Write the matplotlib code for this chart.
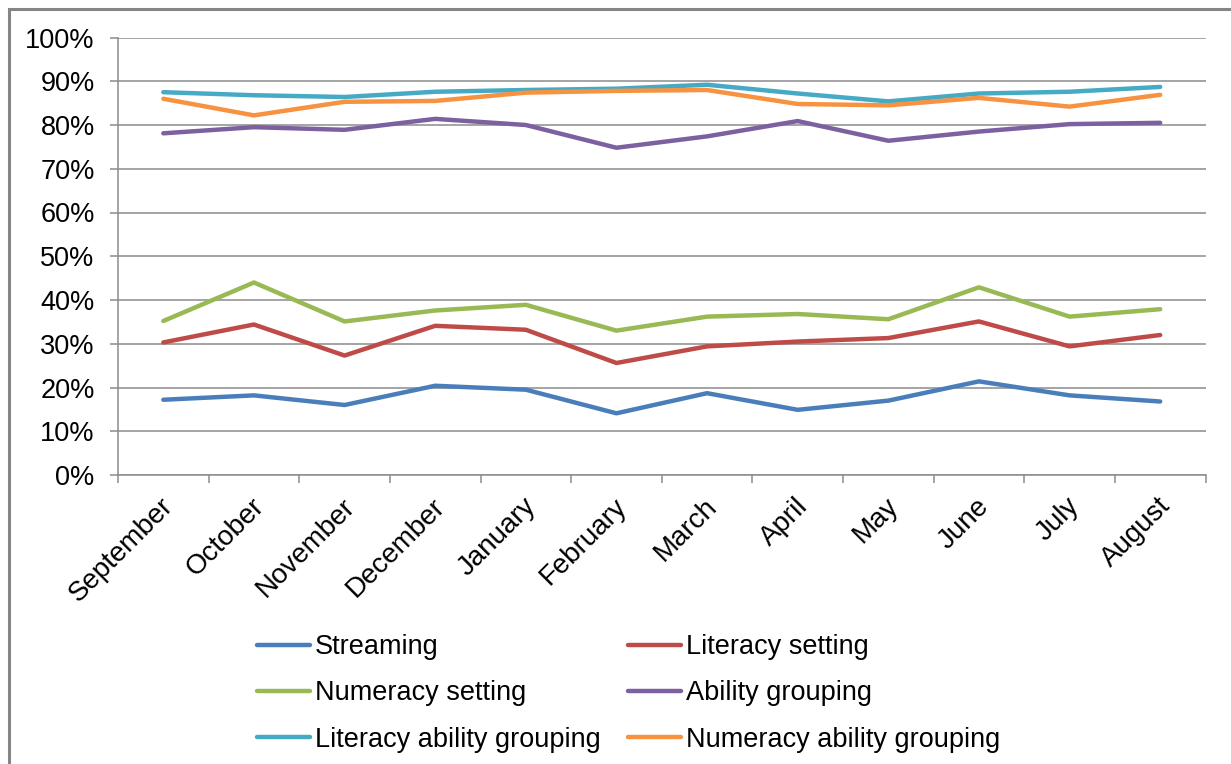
import matplotlib
matplotlib.use("Agg")
import matplotlib.pyplot as plt
import matplotlib.transforms as mtransforms
from matplotlib.patches import Rectangle
from matplotlib.ticker import FixedLocator, PercentFormatter

months = ["September", "October", "November", "December", "January", "February",
          "March", "April", "May", "June", "July", "August"]

streaming = [17.2, 18.2, 16.0, 20.4, 19.5, 14.1, 18.7, 14.9, 17.0, 21.4, 18.2, 16.8]
literacy_setting = [30.3, 34.4, 27.3, 34.1, 33.2, 25.6, 29.4, 30.5, 31.3, 35.1, 29.4, 32.0]
numeracy_setting = [35.2, 44.0, 35.1, 37.6, 38.9, 33.0, 36.2, 36.8, 35.6, 42.9, 36.2, 37.9]
ability_grouping = [78.1, 79.5, 78.9, 81.4, 80.0, 74.8, 77.4, 80.9, 76.4, 78.5, 80.2, 80.5]
literacy_ability_grouping = [87.5, 86.8, 86.4, 87.6, 88.0, 88.3, 89.2, 87.2, 85.4, 87.2, 87.6, 88.7]
numeracy_ability_grouping = [86.0, 82.2, 85.3, 85.5, 87.4, 87.8, 88.0, 84.8, 84.5, 86.2, 84.2, 86.9]

series = [
    ("Streaming", streaming, "#4A7EBB"),
    ("Literacy setting", literacy_setting, "#BE4B48"),
    ("Numeracy setting", numeracy_setting, "#98B954"),
    ("Ability grouping", ability_grouping, "#7D60A0"),
    ("Literacy ability grouping", literacy_ability_grouping, "#46AAC5"),
    ("Numeracy ability grouping", numeracy_ability_grouping, "#F69240"),
]

plt.rcParams["font.family"] = ["Liberation Sans", "DejaVu Sans"]

W, H = 1231, 764
fig = plt.figure(figsize=(W / 100, H / 100), dpi=100)
fig.patch.set_facecolor("white")

# outer chart frame (top and left edges visible)
fig.patches.append(Rectangle((8.5 / W, -0.05), 1.2, 1 - 8.5 / H + 0.05,
                             transform=fig.transFigure, fill=False,
                             edgecolor="#858585", linewidth=2.2, zorder=0))

left, right, top, bottom = 118 / W, 1205.5 / W, 37.5 / H, 475 / H
ax = fig.add_axes([left, 1 - bottom, right - left, bottom - top])

x = list(range(len(months)))
handles = {}
for name, vals, col in series:
    (ln,) = ax.plot(x, vals, color=col, linewidth=3.2, solid_capstyle="round",
                    solid_joinstyle="round", label=name, zorder=3)
    handles[name] = ln

ax.set_xlim(-0.5, len(months) - 0.5)
ax.set_ylim(0, 100)
ax.set_yticks(range(0, 101, 10))
ax.yaxis.set_major_formatter(PercentFormatter(decimals=0))
ax.grid(axis="y", color="#8C8C8C", linewidth=1.1, zorder=1)
ax.set_axisbelow(True)

for s in ("top", "right"):
    ax.spines[s].set_visible(False)
for s in ("left", "bottom"):
    ax.spines[s].set_color("#8C8C8C")
    ax.spines[s].set_linewidth(1.1)

ax.tick_params(axis="y", direction="out", length=5.8, width=1.1, color="#8C8C8C",
               pad=11, labelsize=19.5, labelcolor="black")

ax.set_xticks(x)
ax.set_xticklabels(months, rotation=45, ha="right", va="top",
                   rotation_mode="anchor", fontsize=20)
ax.tick_params(axis="x", which="major", length=0, pad=13)
ax.xaxis.set_minor_locator(FixedLocator([i - 0.5 for i in range(len(months) + 1)]))
ax.tick_params(axis="x", which="minor", direction="out", length=5.8, width=1.1,
               color="#8C8C8C")
shift = mtransforms.ScaledTranslation(-3 / 100, 0, fig.dpi_scale_trans)
for lbl in ax.get_xticklabels():
    lbl.set_transform(lbl.get_transform() + shift)

order = ["Streaming", "Numeracy setting", "Literacy ability grouping",
         "Literacy setting", "Ability grouping", "Numeracy ability grouping"]
fig.legend([handles[n] for n in order], order, ncol=2, frameon=False,
           loc="upper left", bbox_to_anchor=(257 / W, 1 - 634 / H),
           fontsize=19.5, handlelength=1.95, handletextpad=0.2,
           columnspacing=1.0, labelspacing=0.75, borderpad=0, borderaxespad=0)

fig.savefig("out.png", dpi=100, facecolor="white")
